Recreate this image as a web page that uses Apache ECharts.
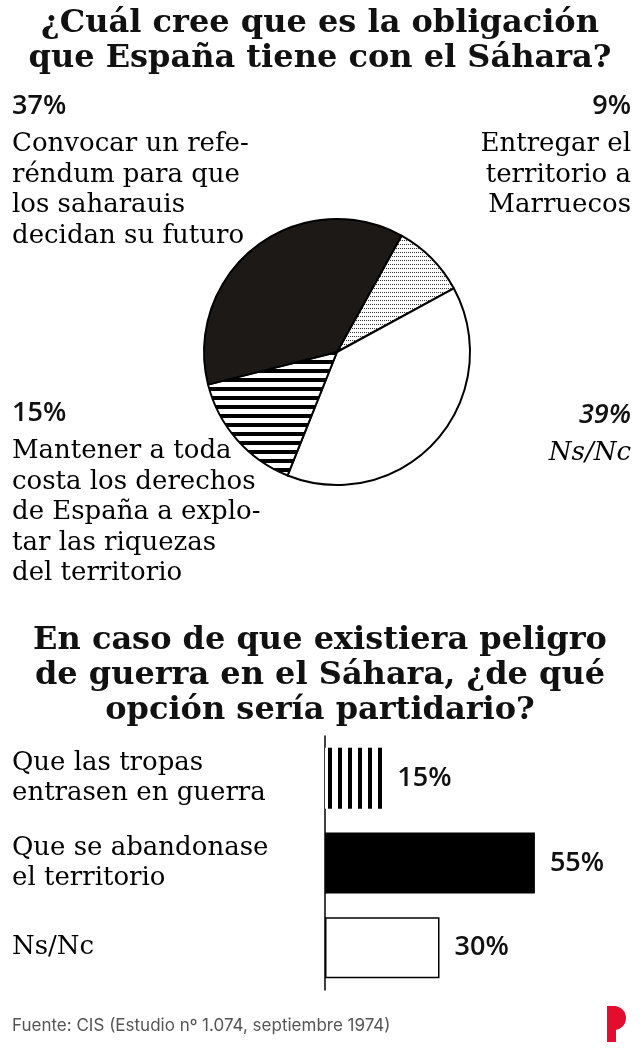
<!DOCTYPE html>
<html><head><meta charset="utf-8">
<script src="https://cdn.jsdelivr.net/npm/echarts@6/dist/echarts.min.js"></script>
<style>html,body{margin:0;padding:0;background:#fff}#c{width:640px;height:1052px}</style>
</head><body><div id="c"></div>
<script>
// ---- data ----
const pieCategories = ['Entregar el territorio a Marruecos', 'Ns/Nc', 'Mantener a toda costa los derechos de España a explotar las riquezas del territorio', 'Convocar un referéndum para que los saharauis decidan su futuro'];
const pieValues = [9, 39, 15, 37];
const pieLabelLines = [
  ['Entregar el', 'territorio a', 'Marruecos'],
  ['Ns/Nc'],
  ['Mantener a toda', 'costa los derechos', 'de España a explo-', 'tar las riquezas', 'del territorio'],
  ['Convocar un refe-', 'réndum para que', 'los saharauis', 'decidan su futuro']
];
const barCategories = ['Que las tropas\nentrasen en guerra', 'Que se abandonase\nel territorio', 'Ns/Nc'];
const barValues = [15, 55, 30];
const titleTop = '¿Cuál cree que es la obligación\nque España tiene con el Sáhara?';
const titleBottom = 'En caso de que existiera peligro\nde guerra en el Sáhara, ¿de qué\nopción sería partidario?';
const sourceText = 'Fuente: CIS (Estudio nº 1.074, septiembre 1974)';

// ---- styles ----
const SERIF = '"DejaVu Serif", serif';
const PCT = '"Open Sans", sans-serif';
function makePattern(w, h, draw) {
  const c = document.createElement('canvas'); c.width = w; c.height = h;
  const g = c.getContext('2d'); g.fillStyle = '#fff'; g.fillRect(0, 0, w, h); draw(g);
  return { image: c, repeat: 'repeat' };
}
const dots = makePattern(4, 4, g => { g.fillStyle = '#333'; g.fillRect(0, 0, 1, 1); g.fillRect(2, 0, 1, 1); });
const hStripes = makePattern(9, 9, g => { g.fillStyle = '#000'; g.fillRect(0, 0, 9, 4); });
const vStripes = makePattern(10, 10, g => { g.fillStyle = '#000'; g.fillRect(0, 0, 2, 10); g.fillRect(8, 0, 2, 10); });

const pieFills = [dots, '#fff', hStripes, '#1d1916'];
const pieLabelAnchor = [
  { x: 631, y: 84, align: 'right', italic: false },
  { x: 631, y: 393, align: 'right', italic: true },
  { x: 12, y: 391, align: 'left', italic: false },
  { x: 12, y: 84, align: 'left', italic: false }
];
const barFills = [vStripes, '#000', '#fff'];

const LBL = 26;
const TTL = 32;
const pieData = pieValues.map((v, i) => {
  const a = pieLabelAnchor[i];
  const fs = a.italic ? 'italic' : 'normal';
  return {
    name: pieCategories[i], value: v,
    itemStyle: { color: pieFills[i] },
    label: {
      formatter: '{p|' + v + '%}\n{t|' + pieLabelLines[i].join('\n') + '}',
      align: a.align,
      rich: {
        p: { fontFamily: PCT, fontWeight: 600, fontSize: 27, lineHeight: 45, fontStyle: fs, color: '#111', align: a.align },
        t: { fontFamily: SERIF, fontSize: LBL, lineHeight: 30.5, fontStyle: fs, color: '#000', align: a.align }
      }
    }
  };
});

const chart = echarts.init(document.getElementById('c'), null, { renderer: 'canvas' });
chart.setOption({
  animation: false,
  backgroundColor: '#fff',
  title: [
    { text: titleTop, left: 'center', top: 1, textStyle: { fontFamily: SERIF, fontWeight: 'bold', fontSize: TTL, lineHeight: 35, color: '#111' } },
    { text: titleBottom, left: 'center', top: 618, textStyle: { fontFamily: SERIF, fontWeight: 'bold', fontSize: TTL, lineHeight: 35, color: '#111' } }
  ],
  grid: { left: 325, top: 736, width: 229, height: 254 },
  xAxis: { type: 'value', min: 0, max: 60, show: false },
  yAxis: {
    type: 'category', inverse: true, data: barCategories,
    axisLine: { show: true, lineStyle: { color: '#000', width: 1.5 } },
    axisTick: { show: false },
    axisLabel: { align: 'left', margin: 313, fontFamily: SERIF, fontSize: LBL, lineHeight: 30.5, color: '#000' }
  },
  series: [
    {
      type: 'pie', center: [337, 352], radius: 133, startAngle: 61, clockwise: true,
      silent: true,
      itemStyle: { borderColor: '#000', borderWidth: 2 },
      label: { show: true, position: 'outside', overflow: 'none' },
      labelLine: { show: false },
      labelLayout: function (p) {
        const a = pieLabelAnchor[p.dataIndex];
        return { x: a.x, y: a.y, align: a.align, verticalAlign: 'top' };
      },
      data: pieData
    },
    {
      type: 'bar', barWidth: 61, silent: true,
      data: barValues.map((v, i) => ({
        value: v,
        itemStyle: { color: barFills[i], borderColor: i === 2 ? '#000' : 'transparent', borderWidth: i === 2 ? 1.5 : 0 }
      })),
      label: { show: true, position: 'right', distance: 15, formatter: '{c}%', fontFamily: PCT, fontWeight: 600, fontSize: 27, color: '#111' }
    }
  ],
  graphic: [
    { type: 'text', left: 12, top: 1017, style: { text: sourceText, font: '17px Inter', fill: '#555' } },
    { type: 'rect', shape: { x: 607, y: 1006, width: 9, height: 36 }, style: { fill: '#e30d2d' } },
    { type: 'rect', shape: { x: 607, y: 1006, width: 8, height: 24 }, style: { fill: '#e30d2d' } },
    { type: 'sector', shape: { cx: 614, cy: 1018, r: 12, r0: 0, startAngle: -Math.PI / 2, endAngle: Math.PI / 2 }, style: { fill: '#e30d2d' } }
  ]
});
</script>
</body></html>
